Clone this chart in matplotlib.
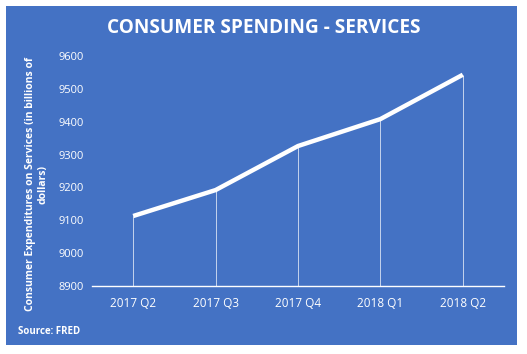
import matplotlib.pyplot as plt
from matplotlib.patches import Rectangle

quarters = ["2017 Q2", "2017 Q3", "2017 Q4", "2018 Q1", "2018 Q2"]
spending = [9113, 9192, 9326, 9408, 9543]
yticks = [8900, 9000, 9100, 9200, 9300, 9400, 9500, 9600]

BLUE = "#4472C4"
plt.rcParams["font.family"] = ["Open Sans", "DejaVu Sans"]

fig = plt.figure(figsize=(5.27, 3.54), dpi=100)
fig.patch.set_facecolor("white")
bg = Rectangle((6 / 527, 1 - 345 / 354), 511 / 527, 339 / 354,
               transform=fig.transFigure, facecolor=BLUE,
               edgecolor="none", zorder=-10)
fig.add_artist(bg)

ax = fig.add_axes([92 / 527, 1 - 286 / 354, 412 / 527, 230 / 354])
ax.set_zorder(5)
ax.set_facecolor("none")

xs = list(range(len(quarters)))
ax.vlines(xs, 8900, spending, color="white", lw=0.6, alpha=0.8)
ax.plot(xs, spending, color="white", lw=3.2, solid_capstyle="butt")

ax.set_xlim(-0.5, 4.5)
ax.set_ylim(8900, 9600)
ax.set_xticks(xs)
ax.set_xticklabels(quarters, color="white", fontsize=8.5)
ax.set_yticks(yticks)
ax.set_yticklabels([str(v) for v in yticks], color="white", fontsize=8)
ax.tick_params(length=0, pad=8)
ax.tick_params(axis="y", pad=6)
for s in ["top", "right", "left"]:
    ax.spines[s].set_visible(False)
ax.spines["bottom"].set_color("white")
ax.spines["bottom"].set_linewidth(1)

fig.text(0.5, 1 - 28 / 354, "CONSUMER SPENDING - SERVICES", color="white",
         fontsize=13.7, fontweight="bold", ha="center", va="center", zorder=6)
fig.text(37 / 527, 1 - 184 / 354,
         "Consumer Expenditures on Services (in billions of\ndollars)",
         color="white", fontsize=7.5, fontweight="bold", rotation=90,
         ha="center", va="center", multialignment="center", zorder=6)
fig.text(18 / 527, 1 - 332 / 354, "Source: FRED", color="white", fontsize=7,
         fontweight="bold", ha="left", va="center", zorder=6)

fig.savefig("out.png", dpi=100)
